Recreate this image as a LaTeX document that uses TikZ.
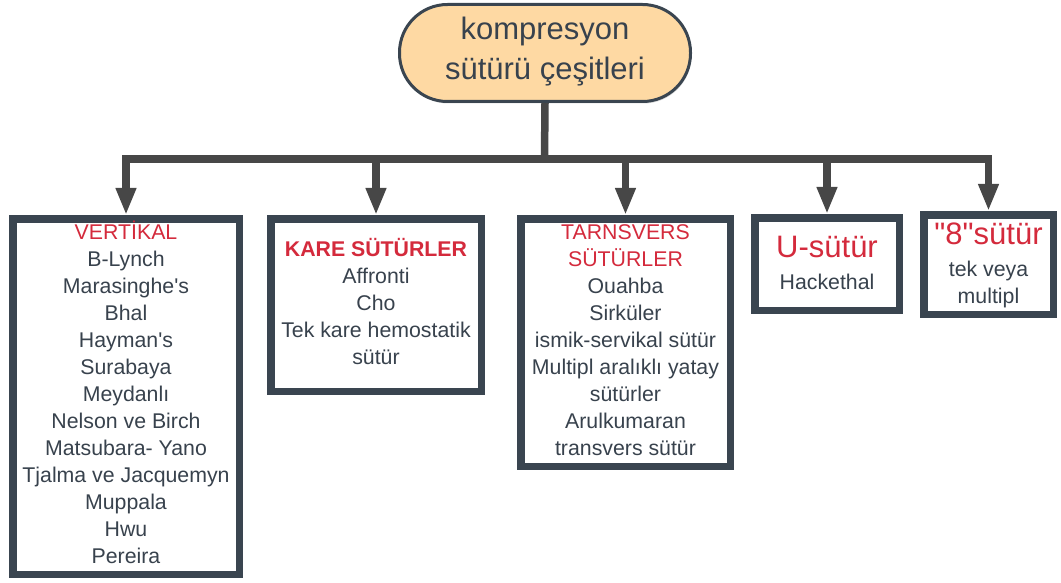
\documentclass[tikz,border=0pt]{standalone}
\usepackage{fontspec}
\setmainfont{Liberation Sans}[Ligatures=TeXOff]
\usetikzlibrary{arrows.meta,shadows}
\definecolor{txtc}{HTML}{38424D}
\definecolor{redc}{HTML}{D42A3C}
\definecolor{bordc}{HTML}{3A4550}
\definecolor{arrc}{HTML}{474747}
\definecolor{pillc}{HTML}{FED9A3}
\tikzset{
  catbox/.style={draw=bordc, line width=7.5pt, fill=white, inner sep=0pt,
    drop shadow={shadow xshift=1pt, shadow yshift=-2pt, opacity=.18, fill=black}},
  txt/.style={inner sep=0pt, anchor=base, text=txtc, font=\fontsize{21.3}{25}\selectfont},
  ttl/.style={txt, text=redc},
  conn/.style={draw=arrc, line width=7.5pt},
  connarr/.style={conn, -{Triangle[width=19pt,length=27pt]}},
}
\begin{document}
\begin{tikzpicture}[x=1pt,y=-1pt]
\useasboundingbox (0,0) rectangle (1061,583);
% top
\node[draw=bordc, line width=3pt, fill=pillc, rounded corners=48pt,
  minimum width=291pt, minimum height=97pt, inner sep=0pt,
  drop shadow={shadow xshift=1pt, shadow yshift=-2pt, opacity=.15, fill=black}] (top) at (545,53) {};
\node[txt, font=\fontsize{31}{35}\selectfont] (top1) at (545,40) {kompresyon};
\node[txt, font=\fontsize{31}{35}\selectfont] (top2) at (545,80) {sütürü çeşitleri};
% boxes
\node[catbox, minimum width=226.5pt, minimum height=355.5pt] (b1) at (126,396.5) {};
\node[catbox, minimum width=210.5pt, minimum height=172.5pt] (b2) at (376,305) {};
\node[catbox, minimum width=209.5pt, minimum height=247.5pt] (b3) at (625.5,342.5) {};
\node[catbox, minimum width=144.5pt, minimum height=92.5pt] (b4) at (827,264) {};
\node[catbox, minimum width=129.5pt, minimum height=99.5pt] (b5) at (988.5,264.5) {};
% connectors
\coordinate (hub) at (544.5,159);
\draw[conn] (top.south) -- (hub);
\foreach \b in {b1,b2,b3,b4,b5} \draw[connarr] (hub) -| (\b.north);
% box 1
\node[ttl] (v0) at (126,239.5) {VERTİKAL};
\foreach \t [count=\i] in {B-Lynch,Marasinghe's,Bhal,Hayman's,Surabaya,Meydanlı,Nelson ve Birch,Matsubara- Yano,Tjalma ve Jacquemyn,Muppala,Hwu,Pereira}
  \node[txt] (v\i) at (126,{239.5+27*\i}) {\t};
% box 2
\node[ttl, font=\fontsize{21.3}{25}\selectfont\bfseries] (k0) at (376,256.5) {KARE SÜTÜRLER};
\foreach \t [count=\i] in {Affronti,Cho,Tek kare hemostatik,sütür}
  \node[txt] (k\i) at (376,{256.5+27*\i}) {\t};
% box 3
\node[ttl] (t0) at (625.5,239.5) {TARNSVERS};
\node[ttl] (t00) at (625.5,266.5) {SÜTÜRLER};
\foreach \t [count=\i] in {Ouahba,Sirküler,ismik-servikal sütür,Multipl aralıklı yatay,sütürler,Arulkumaran,transvers sütür}
  \node[txt] (t\i) at (625.5,{266.5+27*\i}) {\t};
% box 4
\node[ttl, font=\fontsize{31}{35}\selectfont] (u0) at (827,258) {U-sütür};
\node[txt] (u1) at (827,289.5) {Hackethal};
% box 5
\node[ttl, font=\fontsize{31}{35}\selectfont] (e0) at (988.5,244) {"8"sütür};
\node[txt] (e1) at (988.5,276.5) {tek veya};
\node[txt] (e2) at (988.5,303.5) {multipl};
\end{tikzpicture}
\end{document}
